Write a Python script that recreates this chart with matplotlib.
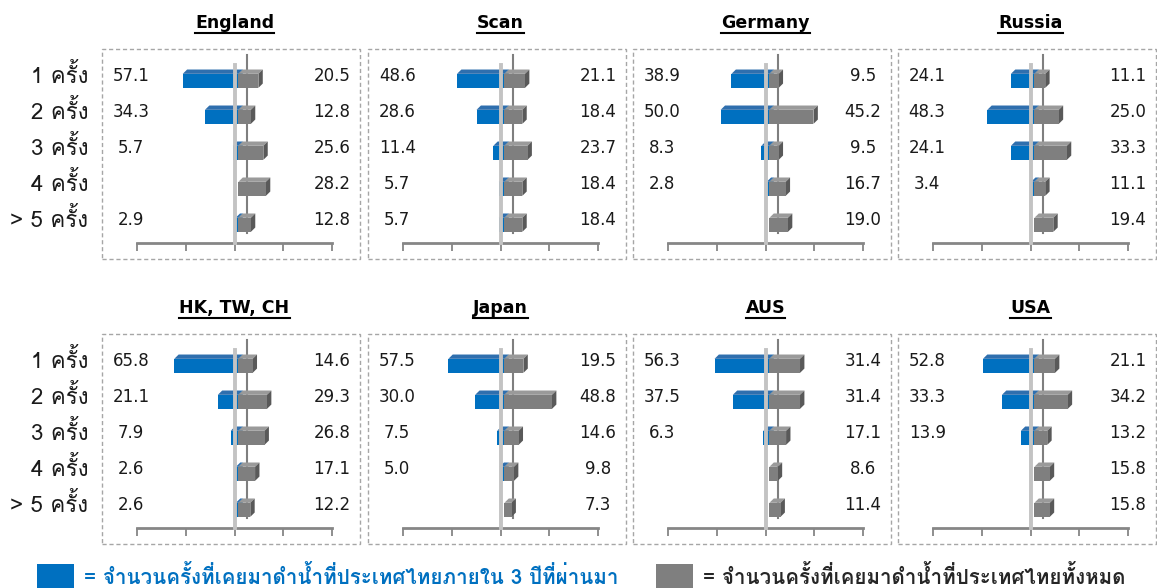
import matplotlib
matplotlib.use("Agg")
import matplotlib.pyplot as plt
from matplotlib import font_manager as fm
from matplotlib.patches import Rectangle, Polygon
from matplotlib.lines import Line2D
from fontTools.ttLib import TTFont

# ข้อมูลแต่ละประเทศ (ฟ้า = 3 ปีที่ผ่านมา, เทา = ทั้งหมด)
countries = ["England", "Scan", "Germany", "Russia", "HK, TW, CH", "Japan", "AUS", "USA"]
row_labels = ["1 ครั้ง", "2 ครั้ง", "3 ครั้ง", "4 ครั้ง", "> 5 ครั้ง"]

blue_england = [57.1, 34.3, 5.7, None, 2.9]
gray_england = [20.5, 12.8, 25.6, 28.2, 12.8]
blue_scan = [48.6, 28.6, 11.4, 5.7, 5.7]
gray_scan = [21.1, 18.4, 23.7, 18.4, 18.4]
blue_germany = [38.9, 50.0, 8.3, 2.8, None]
gray_germany = [9.5, 45.2, 9.5, 16.7, 19.0]
blue_russia = [24.1, 48.3, 24.1, 3.4, None]
gray_russia = [11.1, 25.0, 33.3, 11.1, 19.4]
blue_hk = [65.8, 21.1, 7.9, 2.6, 2.6]
gray_hk = [14.6, 29.3, 26.8, 17.1, 12.2]
blue_japan = [57.5, 30.0, 7.5, 5.0, None]
gray_japan = [19.5, 48.8, 14.6, 9.8, 7.3]
blue_aus = [56.3, 37.5, 6.3, None, None]
gray_aus = [31.4, 31.4, 17.1, 8.6, 11.4]
blue_usa = [52.8, 33.3, 13.9, None, None]
gray_usa = [21.1, 34.2, 13.2, 15.8, 15.8]

blue_all = [blue_england, blue_scan, blue_germany, blue_russia, blue_hk, blue_japan, blue_aus, blue_usa]
gray_all = [gray_england, gray_scan, gray_germany, gray_russia, gray_hk, gray_japan, gray_aus, gray_usa]

legend_blue = "= จำนวนครั้งที่เคยมาดำน้ำที่ประเทศไทยภายใน 3 ปีที่ผ่านมา"
legend_gray = "= จำนวนครั้งที่เคยมาดำน้ำที่ประเทศไทยทั้งหมด"

# หาฟอนต์ที่มีอักษรไทย
thai_font = None
for f in fm.fontManager.ttflist:
    try:
        cmap = TTFont(f.fname, fontNumber=0, lazy=True).getBestCmap()
        if 0x0E04 in cmap:
            thai_font = f.name
            break
    except Exception:
        pass
thai_family = [thai_font, "DejaVu Sans"] if thai_font else ["DejaVu Sans"]

W, H = 1157, 588
fig = plt.figure(figsize=(W / 100, H / 100), dpi=100)


def fx(px):
    return px / W


def fy(py):
    return 1 - py / H


col_left = [137, 403, 668, 933]
row_top = [49, 334]
ax_w, ax_h = 195, 194
dx, dy = 4.5, 0.12
start = 4

titles = []
for k, name in enumerate(countries):
    r, c = divmod(k, 4)
    left, top = col_left[c], row_top[r]
    ax = fig.add_axes([fx(left), fy(top + ax_h), ax_w / W, ax_h / H])
    ax.set_xlim(-100, 100)
    ax.set_ylim(4.64, -0.75)
    for s in ["left", "top", "right"]:
        ax.spines[s].set_visible(False)
    ax.spines["bottom"].set_color("#868686")
    ax.spines["bottom"].set_linewidth(2)
    ax.set_xticks([-100, -50, 0, 50, 100])
    ax.set_xticklabels([])
    ax.tick_params(axis="x", direction="out", length=6, width=1.3, color="#868686")
    ax.set_yticks([])
    ax.patch.set_alpha(0)

    # เส้นแกนตั้ง (หลัง / หน้า)
    ax.plot([13, 13], [-0.58, 4.36], color="#7f7f7f", lw=1.5, zorder=1)
    ax.plot([0, 0], [-0.3, 4.64], color="#c3c3c3", lw=2.8, zorder=6, clip_on=False)

    for i in range(5):
        yt, yb = i - 0.06, i + 0.33
        b = blue_all[k][i]
        g = gray_all[k][i]
        bars = []
        if b is not None:
            bars.append((start - b, start, "#0070c0", "#2f6fae", "#004f8a"))
        bars.append((start, start + g, "#7f7f7f", "#9a9a9a", "#595959"))
        for x0, x1, front, topc, side in bars:
            ax.add_patch(Polygon([(x0, yt), (x1, yt), (x1 + dx, yt - dy), (x0 + dx, yt - dy)],
                                 closed=True, fc=topc, ec="none", zorder=3))
            ax.add_patch(Polygon([(x1, yt), (x1, yb), (x1 + dx, yb - dy), (x1 + dx, yt - dy)],
                                 closed=True, fc=side, ec="none", zorder=3))
            ax.add_patch(Rectangle((x0, yt), x1 - x0, yb - yt, fc=front, ec="none", zorder=4))

        if b is not None:
            ax.text(-106, i, f"{b:.1f}", ha="center", va="center", fontsize=12, color="#1a1a1a")
        ax.text(100, i, f"{g:.1f}", ha="center", va="center", fontsize=12, color="#1a1a1a")
        if c == 0:
            ax.text(-150, i, row_labels[i], ha="right", va="center", fontsize=16,
                    family=thai_family, color="#1a1a1a", clip_on=False)

    # กรอบเส้นประ
    box_bot = top + 210
    fig.add_artist(Rectangle((fx(left - 35), fy(box_bot)), (195 + 63) / W, 210 / H,
                             transform=fig.transFigure, fill=False, ec="#a6a6a6",
                             lw=1, ls=(0, (3, 2))))

    t = fig.text(fx(left + ax_w / 2), fy(23 if r == 0 else 308), name, ha="center", va="center",
                 fontsize=12.5, fontweight="bold", color="#000000")
    titles.append(t)

# คำอธิบายสี
fig.add_artist(Rectangle((fx(37), fy(600)), 37 / W, 36 / H, transform=fig.transFigure,
                         fc="#0070c0", ec="none"))
fig.add_artist(Rectangle((fx(656), fy(600)), 37 / W, 36 / H, transform=fig.transFigure,
                         fc="#7f7f7f", ec="none"))
fig.text(fx(84), fy(577), legend_blue, ha="left", va="center", fontsize=14.8, fontweight="bold",
         color="#0070c0", family=thai_family)
fig.text(fx(703), fy(577), legend_gray, ha="left", va="center", fontsize=14.8, fontweight="bold",
         color="#262626", family=thai_family)

# ขีดเส้นใต้ชื่อประเทศ
fig.canvas.draw()
rend = fig.canvas.get_renderer()
for t in titles:
    bb = t.get_window_extent(rend)
    yline = (bb.y0 - 1) / H
    fig.add_artist(Line2D([bb.x0 / W, bb.x1 / W], [yline, yline], transform=fig.transFigure,
                          color="black", lw=1.5))

fig.savefig("out.png", dpi=100)
